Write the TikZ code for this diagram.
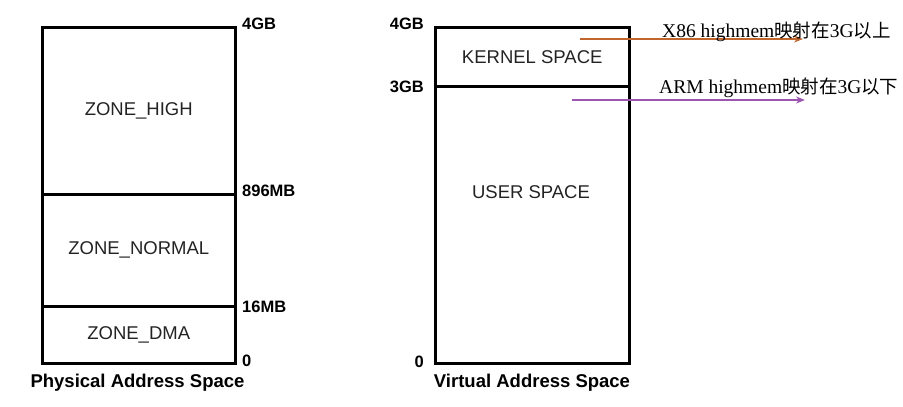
\documentclass[tikz,border=0pt]{standalone}
\usepackage{fontspec}
\setmainfont{Liberation Serif}
\setsansfont{Liberation Sans}
\newfontfamily\cjk{Noto Sans CJK SC}
\usetikzlibrary{arrows.meta}
\definecolor{arrorange}{RGB}{192,102,44}
\definecolor{arrpurple}{RGB}{154,86,176}
\definecolor{txtgray}{RGB}{35,35,35}
\begin{document}
\begin{tikzpicture}[x=1pt,y=-1pt,
  zonefont/.style={font=\sffamily\fontsize{18.5}{18.5}\selectfont,text=txtgray},
  zone/.style={draw=black,line width=2.5pt,inner sep=0pt,anchor=north west,zonefont},
  addr/.style={font=\sffamily\bfseries\fontsize{16.5}{16.5}\selectfont,inner sep=0pt},
  caption/.style={font=\sffamily\bfseries\fontsize{18.5}{18.5}\selectfont,inner sep=0pt,anchor=base},
  note/.style={font=\fontsize{19.5}{20}\selectfont,inner sep=0pt,anchor=base west,text=black},
  arr/.style={line width=2.2pt,-{Stealth[length=9pt,width=7pt]}}
]
\useasboundingbox (0,0) rectangle (903,407);
% physical
\node[zone,minimum width=193pt,minimum height=167pt] (high) at (41,26) {ZONE\_HIGH};
\node[zone,minimum width=193pt,minimum height=112pt] (normal) at (41,193) {ZONE\_NORMAL};
\node[zone,minimum width=193pt,minimum height=57pt] (dma) at (41,305) {ZONE\_DMA};
\node[addr,anchor=west] (p4g) at (242,23.5) {4GB};
\node[addr,anchor=west] (p896) at (242,190.5) {896MB};
\node[addr,anchor=west] (p16) at (242,307) {16MB};
\node[addr,anchor=west] (p0) at (242,361) {0};
\node[caption] (pcap) at (137.5,387) {Physical Address Space};
% virtual
\node[zone,minimum width=194pt,minimum height=59pt] (kernel) at (434,26) {KERNEL SPACE};
\node[zone,minimum width=194pt,minimum height=277pt] (user) at (434,85) {};
\node[zonefont,inner sep=0pt] (userlbl) at (531,192) {USER SPACE};
\node[addr,anchor=east] (v4g) at (424,23.5) {4GB};
\node[addr,anchor=east] (v3g) at (424,87) {3GB};
\node[addr,anchor=east] (v0) at (424,362) {0};
\node[caption] (vcap) at (532,387) {Virtual Address Space};
% arrows and notes
\coordinate (xs) at (580,39);
\coordinate (xe) at (803,39);
\coordinate (as) at (572,100);
\coordinate (ae) at (805,100);
\draw[arr,arrorange] (xs) -- (xe);
\draw[arr,arrpurple] (as) -- (ae);
\node[note] (xnote) at (662,37) {X86 highmem{\cjk\fontsize{18.5}{19}\selectfont 映射在}3G{\cjk\fontsize{18.5}{19}\selectfont 以上}};
\node[note] (anote) at (659,93) {ARM highmem{\cjk\fontsize{18.5}{19}\selectfont 映射在}3G{\cjk\fontsize{18.5}{19}\selectfont 以下}};
\end{tikzpicture}
\end{document}
